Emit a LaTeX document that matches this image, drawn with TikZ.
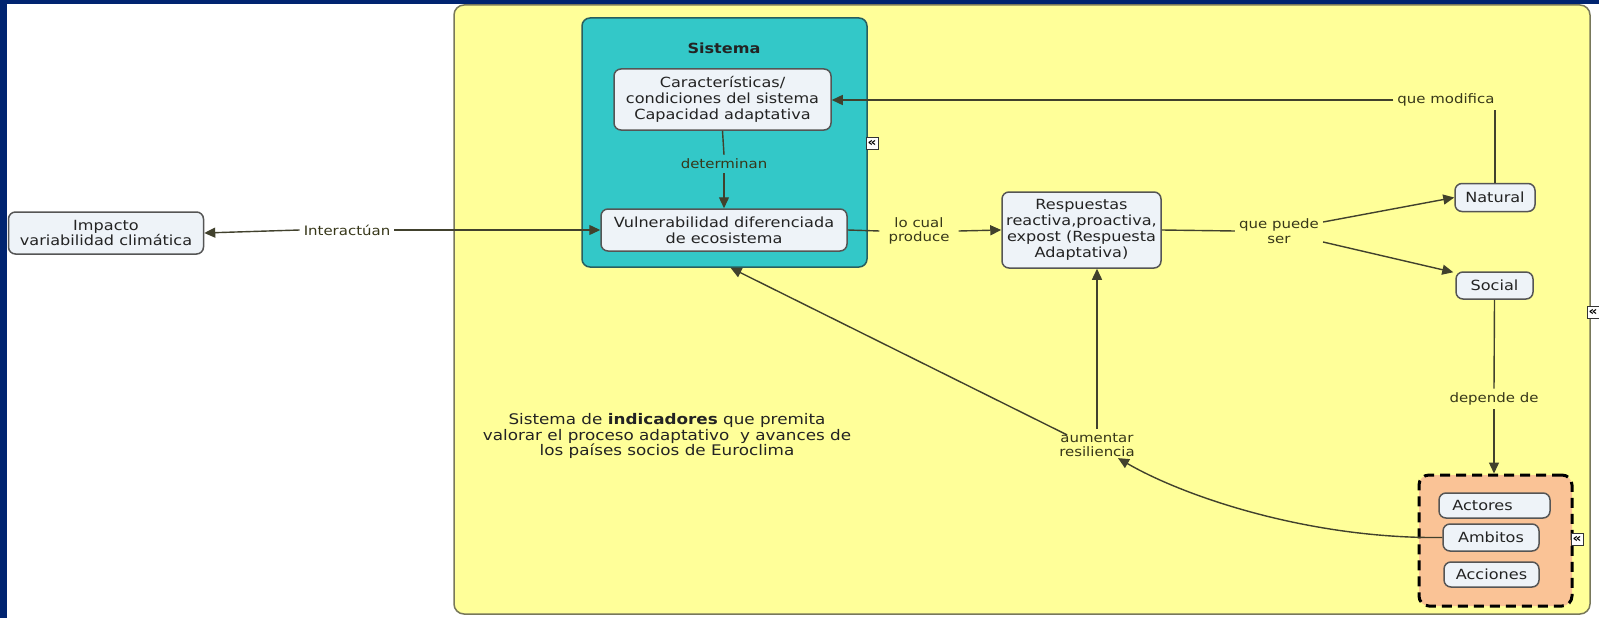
\documentclass[tikz,border=0pt]{standalone}
\usepackage{fontspec}
\setmainfont{DejaVu Sans}[FakeStretch=1.15]
\usetikzlibrary{arrows.meta,calc}
\definecolor{navy}{RGB}{0,36,112}
\definecolor{ylw}{RGB}{255,255,153}
\definecolor{ylwline}{RGB}{120,120,90}
\definecolor{teal2}{RGB}{51,200,200}
\definecolor{tealline}{RGB}{40,95,95}
\definecolor{nfill}{RGB}{238,243,248}
\definecolor{nline}{RGB}{85,85,85}
\definecolor{grpfill}{RGB}{250,195,150}
\definecolor{linkc}{RGB}{65,65,45}
\definecolor{txt}{RGB}{35,35,35}
\definecolor{lbl}{RGB}{55,55,25}
\begin{document}
\begin{tikzpicture}[x=1pt,y=-1pt,
  concept/.style={draw=nline, line width=1.5pt, fill=nfill, rounded corners=7pt, align=center, text=txt, font=\fontsize{14}{15.8}\selectfont, inner sep=0pt},
  lab/.style={align=center, text=lbl, font=\fontsize{13}{14.5}\selectfont, inner sep=4pt},
  lnk/.style={draw=linkc, line width=1.4pt},
  arr/.style={lnk, -{Triangle[length=11pt,width=10pt]}},
  icon/.style={draw=black!80, fill=white, line width=0.8pt, minimum size=12pt, inner sep=0pt, font=\fontsize{12}{12}\selectfont\bfseries}
]
\useasboundingbox (0,0) rectangle (1599,618);
\fill[navy] (0,0) rectangle (1599,618);
\fill[white] (7,4) rectangle (1599,618);

% containers
\node[draw=ylwline, line width=1.5pt, fill=ylw, rounded corners=10pt, minimum width=1136pt, minimum height=609pt] (area) at (1022,309.5) {};
\node[draw=tealline, line width=1.5pt, fill=teal2, rounded corners=8pt, minimum width=285pt, minimum height=249pt] (sys) at (724.5,142.5) {};
\node[text=txt, font=\fontsize{14}{15.8}\selectfont\bfseries] (systitle) at (724,48) {Sistema};
\node[draw=black, line width=3pt, dash pattern=on 10pt off 6pt, fill=grpfill, rounded corners=10pt, minimum width=153pt, minimum height=131pt] (grp) at (1495.5,540.5) {};

% concepts
\node[concept, minimum width=195pt, minimum height=42pt] (imp) at (106,233) {Impacto\\variabilidad climática};
\node[concept, minimum width=217pt, minimum height=61pt] (char) at (722.5,99.5) {Características/\\condiciones del sistema\\Capacidad adaptativa};
\node[concept, minimum width=246pt, minimum height=42pt] (vuln) at (724,230) {Vulnerabilidad diferenciada\\de ecosistema};
\node[concept, minimum width=159pt, minimum height=76pt] (resp) at (1081.5,230) {Respuestas\\reactiva,proactiva,\\expost (Respuesta\\Adaptativa)};
\node[concept, minimum width=80pt, minimum height=28pt] (natural) at (1495,197.5) {Natural};
\node[concept, minimum width=77pt, minimum height=27pt] (social) at (1494.5,285.5) {Social};
\node[concept, minimum width=111pt, minimum height=25pt] (actores) at (1494.5,505.5) {Actores\hspace*{24pt}};
\node[concept, minimum width=96pt, minimum height=27pt] (ambitos) at (1491,537.5) {Ambitos};
\node[concept, minimum width=95pt, minimum height=25pt] (acciones) at (1491.5,574.5) {Acciones};

% free text
\node[align=center, text=txt, font=\fontsize{14.6}{15.6}\selectfont] (indic) at (667,436) {Sistema de \textbf{indicadores} que premita\\valorar el proceso adaptativo~ y avances de\\los países socios de Euroclima};

% link labels
\node[lab] (interact) at (347,230) {Interactúan};
\node[lab] (determ) at (724,164) {determinan};
\node[lab, inner xsep=9pt] (locual) at (919,231) {lo cual\\produce};
\node[lab] (qp) at (1279,231) {que puede\\ser};
\node[lab] (quemod) at (1446,100) {que modifica};
\node[lab] (depende) at (1494,399) {depende de};
\node[lab] (aument) at (1097,445) {aumentar\\resiliencia};

% icons
\node[icon] (ic1) at (872,143) {«};
\node[icon] (ic2) at (1593,312) {«};
\node[icon] (ic3) at (1577,539) {«};

% connectors
\draw[arr] (interact.west) -- (imp.east);
\draw[arr] (interact.east) -- (vuln.west);
\draw[lnk] (char.south) -- (determ.north);
\draw[arr] (determ.south) -- (vuln.north);
\draw[lnk] (vuln.east) -- (locual.west);
\draw[arr] (locual.east) -- (resp.west);
\draw[lnk] (resp.east) -- (qp.west);
\draw[arr] ($(qp.east)+(0,-9)$) -- (natural.west);
\draw[arr] ($(qp.east)+(0,11)$) -- ($(social.north west)+(-2,1)$);
\draw[lnk] (natural.north) -- (natural.north |- quemod.south);
\draw[arr] (quemod.west) -- (quemod.west -| char.east);
\draw[lnk] (social.south) -- (depende.north);
\draw[arr] (depende.south) -- (depende.south |- grp.north);
\draw[arr] (ambitos.west) .. controls (1310,539) and (1185,497) .. ($(aument.south)+(21,-3)$);
\draw[arr] (aument.north) -- (aument.north |- resp.south);
\draw[arr] ($(aument.north west)+(12,6)$) -- ($(sys.south)+(6,0)$);
\end{tikzpicture}
\end{document}
